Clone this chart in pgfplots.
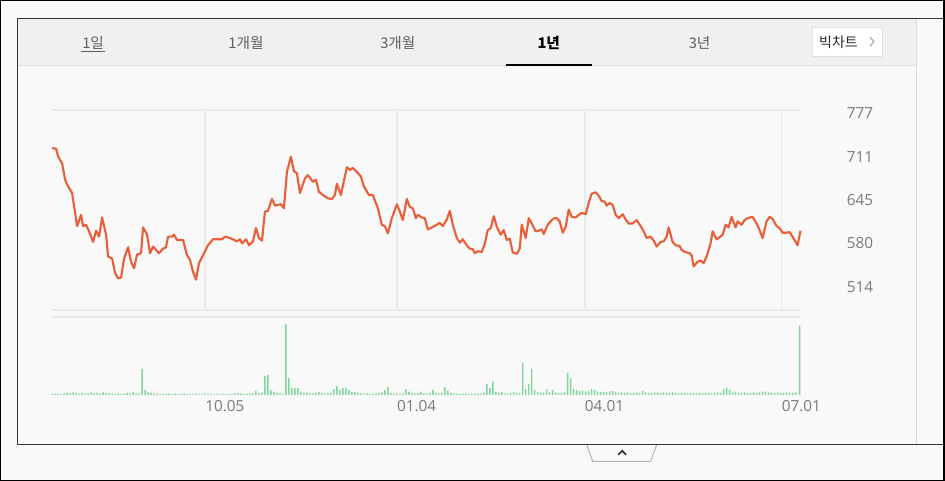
\documentclass[border=0pt]{standalone}
\usepackage{pgfplots}
\pgfplotsset{compat=1.18}
\usepackage{pgfplotstable}
\usepackage{fontspec}
\setmainfont{Open Sans}
\newfontfamily\kr{Noto Sans CJK KR}
\definecolor{bg}{HTML}{F9F9F9}
\definecolor{tabbg}{HTML}{F0F0F0}
\definecolor{pline}{HTML}{E8603A}
\definecolor{vol}{HTML}{80D49C}
\definecolor{gridc}{HTML}{EAEAEA}
\definecolor{ticktxt}{HTML}{7A7A7A}
\definecolor{tabtxt}{HTML}{5E5E5E}

\pgfplotstableread{
d v
0 724
4 723
6 711
10 701
13 676
16 666
20 656
23 626
25 606
29 623
31 606
34 608
37 598
41 582
44 599
47 590
50 619
54 593
56 560
60 557
63 535
66 527
69 528
72 557
76 574
79 552
82 542
85 563
89 565
91 604
95 593
98 565
101 575
104 570
107 565
111 572
114 574
116 590
120 590
122 593
125 585
128 585
131 585
135 562
138 555
141 537
144 525
147 550
151 562
156 577
161 586
166 586
170 586
173 590
178 588
185 583
188 586
190 580
194 586
197 577
201 583
204 603
207 588
210 584
213 628
216 629
220 647
223 637
229 639
232 633
235 688
239 711
242 689
245 686
248 656
253 678
256 683
261 673
264 676
267 658
271 653
276 648
280 647
283 653
285 670
289 653
295 695
298 691
301 694
305 688
309 681
312 666
317 653
321 653
326 633
330 608
333 606
336 595
340 618
345 639
348 628
351 615
355 647
358 635
361 633
364 618
366 623
370 619
373 618
376 601
380 604
385 608
388 611
391 606
395 616
398 629
401 608
405 588
408 581
411 586
415 577
418 572
421 571
423 565
426 568
430 567
433 579
436 600
439 603
442 621
445 605
449 593
452 600
455 585
458 587
461 566
465 564
468 572
470 608
474 588
477 618
480 610
484 598
487 599
490 601
492 594
496 608
500 615
503 618
505 618
508 613
511 596
514 605
517 631
520 620
524 619
527 623
530 626
534 624
537 641
540 655
544 657
547 652
550 644
553 643
555 637
558 641
561 638
564 623
567 618
571 624
574 616
577 610
581 610
585 615
589 606
592 598
595 588
599 590
602 584
605 575
609 582
612 583
615 590
617 604
621 582
624 577
628 576
630 570
633 567
638 565
640 562
642 545
646 552
649 554
652 550
655 560
659 580
661 598
665 586
668 589
671 593
674 608
677 604
680 620
684 604
686 613
690 608
693 615
696 618
701 620
705 610
708 600
711 588
715 613
718 620
721 617
725 606
728 603
731 596
735 596
738 597
741 590
746 577
749 599
}\price

\pgfplotstableread[row sep=\\]{
d v\\
0 1\\ 3 1\\ 6 1.2\\ 9 1\\ 12 1.5\\ 15 2\\ 18 1.5\\ 21 2.5\\ 24 1.5\\ 27 1\\
30 2\\ 33 1.2\\ 36 1.5\\ 39 2.5\\ 42 1.5\\ 45 2\\ 48 1.2\\ 51 2.5\\ 54 1.5\\ 57 2\\
60 1.2\\ 63 1\\ 66 1.5\\ 69 1\\ 72 1.2\\ 75 2\\ 78 1.5\\ 81 2.5\\ 84 1.5\\ 87 1.2\\
90 26\\ 93 5\\ 96 2.7\\ 99 2\\ 102 1.2\\ 105 1.5\\ 108 1\\ 111 1.2\\ 114 1\\ 117 1.5\\
120 1\\ 123 1.2\\ 126 1\\ 129 1\\ 132 1.5\\ 135 1\\ 138 1.2\\ 141 1\\ 144 1.5\\ 147 1.2\\
150 1\\ 153 2\\ 156 1.5\\ 159 1.2\\ 162 1\\ 165 1.2\\ 168 1\\ 171 1.5\\ 174 1\\ 177 1.2\\
180 1\\ 183 1.5\\ 186 2\\ 189 1.5\\ 192 1\\ 195 1\\ 198 1.2\\ 201 1.5\\ 204 4\\ 207 1.5\\
210 2\\ 213 19\\ 216 19.7\\ 219 5\\ 222 3.3\\ 225 2.3\\ 228 1.5\\ 231 1.2\\ 234 71\\ 237 16.7\\
240 7.3\\ 243 6.7\\ 246 6.7\\ 249 3.3\\ 252 2.3\\ 255 2\\ 258 1.5\\ 261 1.5\\ 264 2\\ 267 2.7\\
270 1.5\\ 273 1.2\\ 276 1.5\\ 279 2\\ 282 5.7\\ 285 9\\ 288 5\\ 291 6.7\\ 294 6.7\\ 297 5\\
300 3\\ 303 2.7\\ 306 2\\ 309 1.5\\ 312 1.2\\ 315 1.5\\ 318 1\\ 321 1.2\\ 324 1.5\\ 327 2\\
330 2.5\\ 333 5\\ 336 7.7\\ 339 2\\ 342 1.2\\ 345 1.5\\ 348 1\\ 351 1.5\\ 354 5.7\\ 357 3.3\\
360 2\\ 363 1.5\\ 366 2\\ 369 3.3\\ 372 1.5\\ 375 1.2\\ 378 2\\ 381 5\\ 384 2\\ 387 1.5\\
390 2\\ 393 7.7\\ 396 4.3\\ 399 2\\ 402 1.5\\ 405 1.2\\ 408 1\\ 411 1.2\\ 414 1.5\\ 417 1\\
420 1.2\\ 423 1.5\\ 426 1.2\\ 429 1\\ 432 2\\ 435 10.7\\ 438 6.7\\ 441 13.3\\ 444 3.3\\ 447 2\\
450 2.7\\ 453 1.5\\ 456 1.2\\ 459 2\\ 462 3.3\\ 465 2\\ 468 1.5\\ 471 32.3\\ 474 5.7\\ 477 11\\
480 26\\ 483 5\\ 486 3\\ 489 2.5\\ 492 2\\ 495 5.7\\ 498 2.5\\ 501 5\\ 504 2.5\\ 507 2\\
510 2\\ 513 2.5\\ 516 22.3\\ 519 16.7\\ 522 6\\ 525 5\\ 528 4\\ 531 4.3\\ 534 3.5\\ 537 3.5\\
540 5.7\\ 543 5\\ 546 3.5\\ 549 3\\ 552 3\\ 555 3\\ 558 3.5\\ 561 4\\ 564 3\\ 567 2\\
570 2.5\\ 573 2\\ 576 2.5\\ 579 2\\ 582 2\\ 585 2.5\\ 588 2\\ 591 4\\ 594 2.5\\ 597 2\\
600 2\\ 603 2.5\\ 606 2.5\\ 609 2\\ 612 2.5\\ 615 2\\ 618 2\\ 621 2.5\\ 624 2\\ 627 1.5\\
630 2\\ 633 2\\ 636 1.5\\ 639 2\\ 642 2\\ 645 1.5\\ 648 2\\ 651 1.5\\ 654 2\\ 657 2\\
660 1.5\\ 663 2\\ 666 2.5\\ 669 2\\ 672 5.7\\ 675 7.3\\ 678 5\\ 681 2.5\\ 684 3.3\\ 687 2\\
690 2\\ 693 2.5\\ 696 2\\ 699 2\\ 702 2.5\\ 705 2\\ 708 2.5\\ 711 3.3\\ 714 3.3\\ 717 2.5\\
720 2.5\\ 723 2\\ 726 2.5\\ 729 2\\ 732 2\\ 735 2.5\\ 738 2\\ 741 2\\ 744 2.5\\ 748 69.3\\
}\volume

\begin{document}
\begin{tikzpicture}[x=0.75pt,y=0.75pt]
\fill[bg] (0,0) rectangle (945,481);
% tab bar
\fill[tabbg] (17,416) rectangle (917,463);
\draw[black!12, line width=0.75pt] (17,416) -- (917,416);
\draw[black!14, line width=0.75pt] (917,36) -- (917,463);
% caret tab
\draw[black!30, line width=0.75pt, fill=bg] (587,36) -- (593,19.5) -- (651,19.5) -- (657,36);
\draw[black!80, line width=1.3pt] (618.5,26) -- (622.5,30) -- (626.5,26);
% panel border
\draw[black!80, line width=0.9pt] (945,463) -- (17,463) -- (17,36) -- (945,36);
\draw[black, line width=1pt] (0.5,0.5) rectangle (944.5,480.5);
% tabs
\node[text=tabtxt, font=\kr\fontsize{11}{13}\selectfont] at (93,438) {1일};
\draw[tabtxt, line width=0.6pt] (81,430) -- (105,430);
\node[text=tabtxt, font=\kr\fontsize{11}{13}\selectfont] at (246,438) {1개월};
\node[text=tabtxt, font=\kr\fontsize{11}{13}\selectfont] at (398,438) {3개월};
\node[text=black, font=\kr\bfseries\fontsize{11}{13}\selectfont] at (549,438) {1년};
\node[text=tabtxt, font=\kr\fontsize{11}{13}\selectfont] at (700,438) {3년};
\draw[black, line width=1.6pt] (506,416.5) -- (592,416.5);
\draw[black!12, fill=white, line width=0.75pt] (812.5,424.5) rectangle (883.5,454);
\node[text=black!85, font=\kr\fontsize{10.5}{12}\selectfont] at (839,439) {빅차트};
\draw[black!35, line width=0.8pt] (870.5,444) -- (874.5,439.5) -- (870.5,435);

% price axis
\begin{axis}[at={(39pt,128.25pt)}, anchor=south west, scale only axis,
  width=561.75pt, height=150pt,
  xmin=0, xmax=749, ymin=479.2, ymax=781.5,
  axis line style={draw=none}, major tick length=0pt,
  xtick={153,345,533,730}, xticklabels={},
  xmajorgrids, grid style={gridc, line width=1.4pt},
  ytick={514,580,645,711,777},
  ytick pos=right, yticklabel pos=right,
  /pgf/number format/assume math mode=true,
  yticklabel style={anchor=west, inner sep=0pt, xshift=34.5pt, text=ticktxt,
    font=\fontsize{11.5}{13}\selectfont},
  clip=false]
\draw[gridc, line width=1.6pt] (rel axis cs:0,1) -- (rel axis cs:1,1);
\draw[gridc, line width=1.6pt] (rel axis cs:0,0) -- (rel axis cs:1,0);
\addplot[pline, line width=1.6pt, line join=round, no marks] table[x=d, y=v] {\price};
\end{axis}

% volume axis
\begin{axis}[at={(39pt,64.5pt)}, anchor=south west, scale only axis,
  width=561.75pt, height=58.5pt,
  xmin=0, xmax=749, ymin=0, ymax=78,
  axis line style={draw=none}, major tick length=0pt,
  xtick={153,345,533,730}, xticklabels={10.05,01.04,04.01,07.01},
  xticklabel style={anchor=north west, inner sep=0pt, yshift=-4.3pt, text=ticktxt,
    font=\fontsize{11.5}{13}\selectfont},
  ytick=\empty, clip=false]
\draw[gridc, line width=1.6pt] (rel axis cs:0,1) -- (rel axis cs:1,1);
\addplot[ybar, bar width=1.1pt, fill=vol, draw=none] table[x=d, y=v] {\volume};
\end{axis}
\end{tikzpicture}
\end{document}
